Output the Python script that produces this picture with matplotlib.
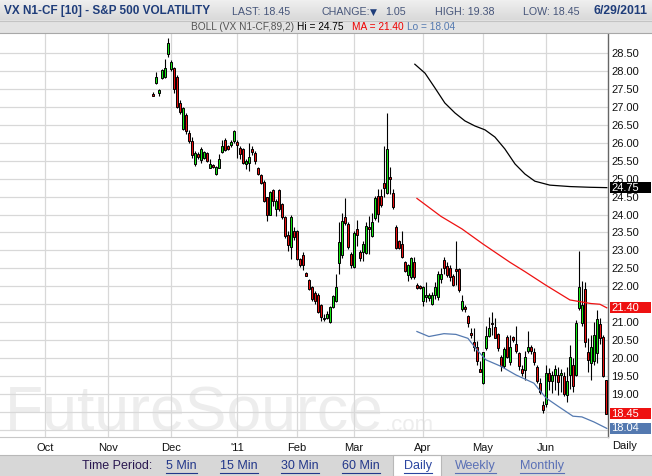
import matplotlib
matplotlib.use('Agg')
import matplotlib.pyplot as plt
import matplotlib.transforms as mtransforms
from matplotlib.patches import Rectangle
from matplotlib.lines import Line2D
import numpy as np

plt.rcParams['font.family'] = ['Liberation Sans', 'DejaVu Sans']

W, H = 652, 476

# x = trading-day index, 0 = 1 Oct 2010
first_bar = 36
opens = [27.37, 27.67, 27.39, 27.80, 27.82, 28.47, 28.05, 28.08, 27.83, 27.12,
         26.39, 26.78, 26.28, 26.06, 25.40, 25.70, 25.51, 25.58, 25.72, 25.31,
         25.38, 25.14, 25.31, 25.75, 26.09, 25.90, 25.93, 26.04, 26.02, 25.85,
         25.83, 25.40, 25.44, 25.83, 25.72, 25.31, 25.09, 24.91, 24.48, 24.00,
         24.68, 24.15, 24.68, 24.29, 23.92, 23.43, 23.09, 23.54, 23.53, 22.75,
         22.88, 22.38, 22.17, 21.98, 21.82, 21.77, 21.47, 21.08, 21.13, 21.01,
         21.43, 21.58, 22.66, 22.86, 23.92, 23.74, 22.89, 22.54, 23.60, 22.95,
         22.95, 22.93, 23.62, 23.41, 23.89, 24.52, 24.52, 24.89, 24.60, 25.06,
         24.61, 23.66, 23.25, 23.18, 22.67, 22.32, 22.26, 22.69, 22.05, 22.02,
         21.58, 21.69, 21.68, 21.52, 21.75, 21.70, 22.19, 22.72, 22.57, 22.51,
         22.30, 22.49, 22.49, 21.38, 21.41, 21.18, 20.71, 20.44, 20.32, 19.70,
         19.30, 20.27, 20.62, 20.99, 20.87, 20.66, 20.04, 19.77, 20.59, 19.88,
         20.58, 20.38, 20.13, 19.69, 19.66, 20.21, 20.32, 20.18, 19.74, 19.30,
         18.69, 18.72, 19.58, 19.35, 19.52, 19.52, 19.52, 19.49, 18.98, 19.52,
         19.82, 19.54, 21.40, 20.97, 21.93, 20.18, 19.86, 19.91, 20.13, 20.94,
         20.60, 19.38]
highs = [27.42, 27.97, 27.49, 28.05, 28.33, 28.91, 28.30, 28.12, 27.90, 27.18,
         27.00, 26.82, 26.35, 26.15, 25.76, 25.75, 25.88, 25.78, 25.75, 25.55,
         25.40, 25.36, 25.69, 26.09, 26.14, 25.95, 26.08, 26.36, 26.09, 25.90,
         25.86, 25.55, 25.99, 25.92, 25.76, 25.33, 25.12, 24.95, 24.50, 24.66,
         24.72, 24.42, 24.72, 24.33, 23.95, 23.55, 24.00, 23.65, 23.58, 22.80,
         22.95, 22.40, 22.20, 22.02, 21.86, 21.80, 21.50, 21.22, 21.30, 21.45,
         21.75, 22.35, 23.79, 24.05, 24.45, 23.80, 22.95, 23.55, 23.85, 23.00,
         23.25, 23.80, 23.97, 24.05, 24.52, 24.70, 24.72, 25.90, 26.83, 25.33,
         24.70, 23.70, 23.28, 23.55, 22.70, 22.62, 22.83, 22.83, 22.10, 22.05,
         22.00, 22.12, 21.80, 21.85, 22.12, 22.42, 22.50, 22.82, 22.67, 22.60,
         22.35, 23.25, 22.52, 21.75, 21.48, 21.20, 20.83, 20.84, 20.47, 19.91,
         20.18, 20.88, 21.15, 21.29, 21.13, 20.70, 20.08, 20.30, 20.65, 20.65,
         20.62, 20.88, 20.18, 19.82, 20.20, 20.75, 20.36, 20.28, 19.82, 19.45,
         18.80, 19.80, 19.72, 19.65, 19.80, 19.76, 19.70, 19.60, 19.76, 20.37,
         20.00, 21.05, 22.99, 22.14, 22.12, 20.55, 20.65, 21.00, 21.33, 21.12,
         20.65, 19.38]
lows = [27.30, 27.64, 27.31, 27.78, 27.80, 28.40, 28.00, 27.38, 26.98, 26.80,
        26.37, 26.25, 26.00, 25.58, 25.36, 25.55, 25.45, 25.55, 25.46, 25.30,
        25.30, 25.10, 25.30, 25.72, 25.78, 25.80, 25.88, 26.00, 25.58, 25.55,
        25.40, 25.28, 25.21, 25.66, 25.40, 25.10, 24.86, 24.35, 23.83, 23.98,
        24.24, 23.95, 24.10, 23.88, 23.35, 22.98, 22.75, 23.30, 22.72, 22.55,
        22.45, 22.28, 21.90, 21.60, 21.50, 21.25, 21.02, 21.02, 21.10, 20.98,
        21.40, 21.55, 22.35, 22.80, 23.70, 23.05, 22.50, 22.50, 23.12, 22.70,
        22.70, 22.90, 22.90, 23.38, 23.85, 23.80, 24.20, 24.50, 24.57, 24.57,
        24.15, 23.05, 23.05, 22.78, 22.40, 22.15, 22.20, 22.20, 21.93, 21.93,
        21.46, 21.55, 21.60, 21.48, 21.66, 21.62, 22.10, 22.35, 22.25, 22.15,
        22.00, 22.03, 21.85, 21.30, 21.27, 20.87, 20.56, 20.20, 19.81, 19.60,
        19.27, 20.22, 20.60, 20.65, 20.55, 20.20, 19.63, 19.72, 20.00, 19.80,
        20.45, 20.15, 19.68, 19.50, 19.39, 20.15, 20.10, 19.82, 19.30, 19.00,
        18.47, 18.65, 19.10, 19.02, 19.10, 18.98, 19.05, 18.95, 18.78, 19.15,
        19.05, 19.50, 21.33, 20.90, 20.30, 19.60, 19.40, 19.80, 19.85, 20.40,
        19.48, 18.45]
closes = [27.31, 27.83, 27.47, 28.02, 28.08, 28.77, 28.26, 27.49, 27.00, 26.85,
          26.96, 26.32, 26.04, 25.67, 25.72, 25.60, 25.83, 25.74, 25.50, 25.42,
          25.32, 25.33, 25.54, 25.92, 25.79, 25.83, 26.03, 26.34, 25.94, 25.70,
          25.44, 25.49, 25.61, 25.74, 25.49, 25.14, 24.89, 24.38, 24.00, 24.63,
          24.38, 24.38, 24.15, 23.92, 23.39, 23.14, 23.92, 23.37, 22.75, 22.60,
          22.58, 22.30, 21.93, 21.66, 21.59, 21.29, 21.15, 21.13, 21.22, 21.43,
          21.73, 21.98, 23.23, 23.83, 23.76, 23.09, 22.58, 23.49, 23.43, 22.79,
          23.17, 23.69, 23.60, 23.80, 24.45, 24.01, 24.26, 24.75, 25.83, 25.00,
          24.20, 23.07, 23.07, 22.81, 22.44, 22.60, 22.78, 22.26, 21.95, 21.96,
          21.98, 21.75, 21.75, 21.77, 21.98, 22.35, 22.35, 22.52, 22.32, 22.26,
          22.03, 22.44, 21.89, 21.58, 21.38, 20.99, 20.64, 20.30, 19.91, 19.62,
          20.18, 20.62, 20.83, 20.95, 20.55, 20.29, 19.77, 20.25, 20.02, 20.32,
          20.50, 20.20, 19.77, 19.58, 20.04, 20.32, 20.21, 19.89, 19.35, 19.05,
          18.54, 19.58, 19.35, 19.52, 19.69, 19.33, 19.58, 19.00, 19.37, 20.04,
          19.21, 20.98, 21.98, 21.47, 20.46, 19.95, 20.32, 20.64, 21.10, 20.57,
          19.50, 18.45]

# Bollinger (89, 2) bands
band_hi_x = [123.3, 126.7, 130, 133.3, 136.7, 140, 143.3, 146.7, 150, 153.3,
             156.7, 160, 163.3, 168.3, 175, 181.7, 187.3]
band_hi = [28.19, 27.94, 27.53, 27.11, 26.83, 26.61, 26.47, 26.36, 26.16,
           25.83, 25.41, 25.13, 24.93, 24.82, 24.78, 24.76, 24.75]
band_ma_x = [124, 132, 139, 146, 155, 160, 167, 175, 182, 185, 187.3]
band_ma = [24.45, 23.95, 23.60, 23.18, 22.67, 22.41, 22.03, 21.62, 21.52,
           21.50, 21.40]
band_lo_x = [124, 128, 133, 137, 141, 144, 147, 152, 157, 163, 167, 171, 176,
             179, 183, 187.3]
band_lo = [20.74, 20.60, 20.68, 20.66, 20.55, 20.23, 19.95, 19.77, 19.53,
           19.30, 18.89, 18.66, 18.38, 18.36, 18.22, 18.04]

month_labels = ['Oct', 'Nov', 'Dec', "'11", 'Feb', 'Mar', 'Apr', 'May', 'Jun']
month_pos = [0, 21, 42, 64, 84, 103, 126, 146, 167]

hi_last, ma_last, lo_last = 24.75, 21.40, 18.04
last, change, day_high, day_low = 18.45, 1.05, 19.38, 18.45

GREEN = '#14e614'
RED = '#e81010'
BLUE = '#5479b0'
NAVY = '#1f3d7a'
HDR = 7.7  # small header text size

fig = plt.figure(figsize=(W / 100, H / 100), dpi=100)
fig.patch.set_facecolor('white')


def fx(x):
    return x / W


def fy(y):
    return 1 - y / H


def ptext(x, y, s, **kw):
    kw.setdefault('va', 'center')
    return fig.text(fx(x), fy(y), s, **kw)


# header bands
hdr = fig.add_axes([0, fy(20), 1, 20 / H])
hdr.imshow(np.linspace(0, 1, 20).reshape(-1, 1), aspect='auto',
           cmap=matplotlib.colors.LinearSegmentedColormap.from_list('g', ['#efefef', '#d9d9d9']),
           extent=[0, 1, 0, 1])
hdr.axis('off')
fig.add_artist(Rectangle((0, fy(33)), 1, 13 / H, transform=fig.transFigure,
                         facecolor='#e3e3e3', edgecolor='none'))
fig.add_artist(Line2D([0, 1], [fy(20.5), fy(20.5)], transform=fig.transFigure,
                      color='#c4c4c4', lw=0.8))
fig.add_artist(Line2D([0, 1], [fy(32.5), fy(32.5)], transform=fig.transFigure,
                      color='#a8a8a8', lw=0.8))

ptext(4, 11, 'VX N1-CF [10] - S&P 500 VOLATILITY', fontsize=8.5, fontweight='bold',
      color=NAVY)
lab = '#46557a'
ptext(232, 12, f'LAST: {last:.2f}', fontsize=HDR, color=lab)
ptext(321, 12, 'CHANGE:', fontsize=HDR, color=lab)
ptext(370, 12, '\u25bc', fontsize=6.5, color=NAVY, family=['DejaVu Sans'])
ptext(385, 12, f'{change:.2f}', fontsize=HDR, color=lab)
ptext(435, 12, f'HIGH: {day_high:.2f}', fontsize=HDR, color=lab)
ptext(523, 12, f'LOW: {day_low:.2f}', fontsize=HDR, color=lab)
ptext(594, 11, '6/29/2011', fontsize=8.8, fontweight='bold', color=NAVY)

ptext(191, 26.5, 'BOLL (VX N1-CF,89,2)', fontsize=7.3, color='#555555')
ptext(297, 26.5, f'Hi = {hi_last:.2f}', fontsize=7.3, color='black')
ptext(352, 26.5, f'MA = {ma_last:.2f}', fontsize=7.3, color='#ee0000')
ptext(407, 26.5, f'Lo = {lo_last:.2f}', fontsize=7.3, color=BLUE)

# main chart
ax = fig.add_axes([0, fy(437), fx(608), (437 - 33) / H])
ax.set_xlim(-15, 187.7)
ax.set_ylim(17.80, 29.06)
ax.set_axisbelow(True)
ax.set_facecolor('white')

wm = ax.text(-13.5, 17.98, 'FutureSource', fontsize=45, color='#ededed',
             zorder=0.3, va='baseline')

xs = np.arange(first_bar, first_bar + len(opens))
o = np.array(opens)
c = np.array(closes)
ax.vlines(xs, lows, highs, color='black', lw=0.8, zorder=2)
body_lo = np.minimum(o, c)
body_h = np.maximum(np.abs(c - o), 0.04)
cols = [GREEN if cc > oo else RED for oo, cc in zip(o, c)]
ax.bar(xs, body_h, bottom=body_lo, width=0.8, color=cols, edgecolor='black',
       linewidth=0.7, zorder=3)

ax.plot(band_hi_x, band_hi, color='black', lw=0.9, zorder=4)
ax.plot(band_ma_x, band_ma, color='#ee1111', lw=0.9, zorder=4)
ax.plot(band_lo_x, band_lo, color=BLUE, lw=0.9, zorder=4)

hidden = {18.0, 18.5, 21.5}  # fully behind the value flags
ax.set_yticks(np.arange(18.0, 29.0, 0.5))
ax.yaxis.set_major_formatter(matplotlib.ticker.FuncFormatter(
    lambda v, p: '' if round(v, 2) in hidden else f'{v:.2f}'))
ax.yaxis.tick_right()
ax.set_xticks(month_pos)
ax.set_xticklabels(month_labels)
ax.tick_params(length=0, labelsize=8, labelcolor='#111111')
ax.tick_params(axis='y', pad=2.5)
ax.tick_params(axis='x', pad=4)
ax.grid(True, color='#d8d8d8', lw=0.9)
for s in ['top', 'left']:
    ax.spines[s].set_visible(False)
ax.spines['right'].set_color('#666666')
ax.spines['right'].set_linewidth(1.0)
ax.spines['bottom'].set_color('#c8c8c8')
ax.spines['bottom'].set_linewidth(0.8)

# value flags on the price scale
trans = mtransforms.blended_transform_factory(ax.transAxes, ax.transData)
box_h = 11 / (404 / (29.06 - 17.80))
for val, col in [(hi_last, 'black'), (ma_last, '#ee1111'), (last, '#ee1111'),
                 (lo_last, BLUE)]:
    ax.add_patch(Rectangle((1 + 2 / 608, val - box_h / 2), 41 / 608, box_h,
                           transform=trans, facecolor=col, edgecolor='none',
                           clip_on=False, zorder=6))
    ax.text(1 + 3.5 / 608, val, f'{val:.2f}', transform=trans, color='white',
            fontsize=8, va='center', ha='left', zorder=7, clip_on=False)

ptext(625, 446, 'Daily', fontsize=8, color='#111111', ha='center')

# footer
fig.add_artist(Rectangle((0, 0), 1, 21 / H, transform=fig.transFigure,
                         facecolor='#d7d7d7', edgecolor='none'))
fig.add_artist(Line2D([0, 1], [fy(455), fy(455)], transform=fig.transFigure,
                      color='#b8b8b8', lw=0.8))
fig.add_artist(Rectangle((fx(393), 0), 48 / W, 21.5 / H, transform=fig.transFigure,
                         facecolor='white', edgecolor='#b8b8b8', lw=0.8))

ptext(82, 466, 'Time Period:', fontsize=9, color='#2a1850')
links = []
for x0, name, col in [(166, '5 Min', '#22378a'), (220, '15 Min', '#22378a'),
                      (281, '30 Min', '#22378a'), (342, '60 Min', '#22378a'),
                      (404, 'Daily', '#2a45a0'), (455, 'Weekly', '#5a70b6'),
                      (520, 'Monthly', '#5a70b6')]:
    links.append((ptext(x0, 466, name, fontsize=9, color=col), col))

fig.canvas.draw()
renderer = fig.canvas.get_renderer()

# ".com" sits just after the watermark word
bb = wm.get_window_extent(renderer)
ax.text(bb.x1 / W + 2 / W, fy(431), '.com', transform=fig.transFigure,
        fontsize=16, color='#ededed', zorder=0.3, va='baseline')

for t, col in links:
    bb = t.get_window_extent(renderer)
    yl = (bb.y0 - 0.5) / H
    fig.add_artist(Line2D([bb.x0 / W, bb.x1 / W], [yl, yl],
                          transform=fig.transFigure, color=col, lw=0.8))

fig.savefig('out.png', dpi=100)
